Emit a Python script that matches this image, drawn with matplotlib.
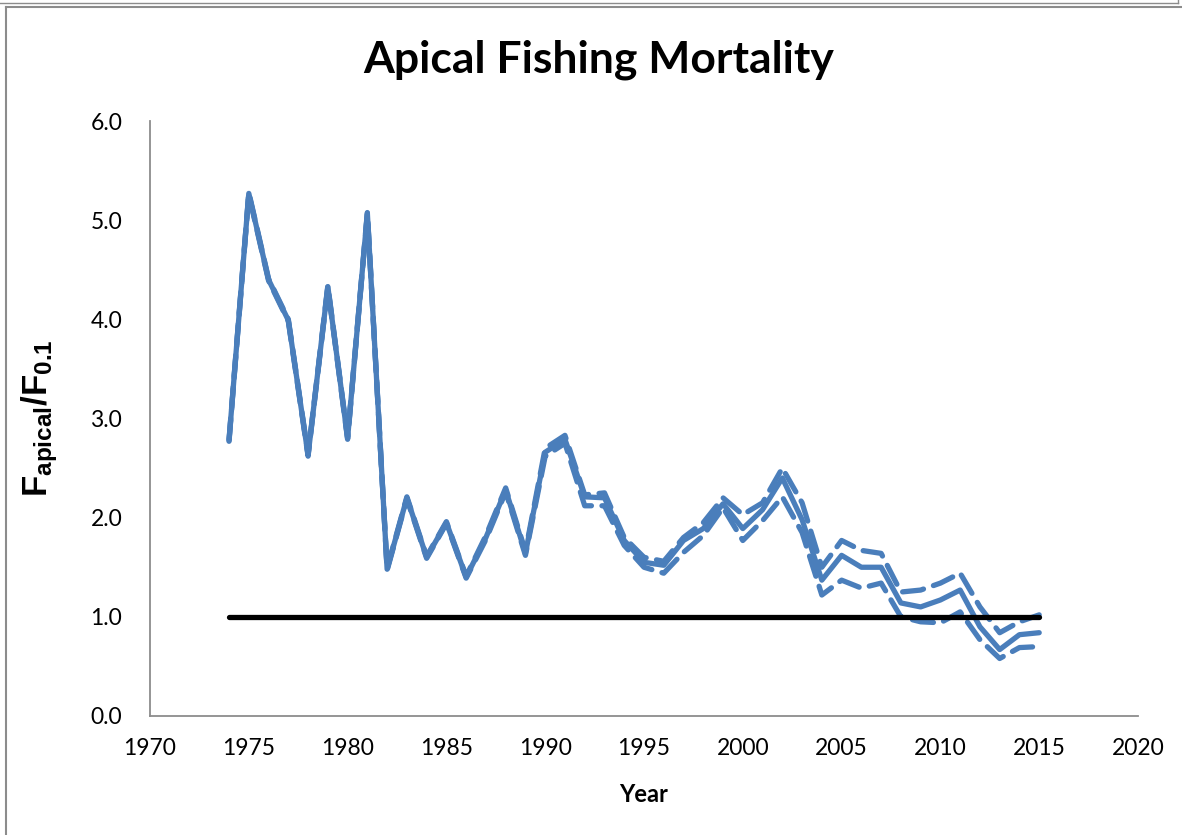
import numpy as np
import matplotlib.pyplot as plt
from matplotlib.lines import Line2D

plt.rcParams['font.family'] = ['Lato', 'DejaVu Sans']
plt.rcParams['mathtext.fontset'] = 'custom'
plt.rcParams['mathtext.rm'] = 'Liberation Sans'
plt.rcParams['mathtext.bf'] = 'Liberation Sans:bold'
plt.rcParams['mathtext.default'] = 'bf'

# dati
years = np.arange(1974, 2016)
f_ratio = [2.78, 5.27, 4.40, 3.99, 2.63, 4.33, 2.80, 5.07, 1.48, 2.20,
           1.60, 1.95, 1.40, 1.80, 2.28, 1.64, 2.66, 2.79, 2.21, 2.20,
           1.77, 1.55, 1.52, 1.77, 1.89, 2.14, 1.89, 2.08, 2.40, 1.98,
           1.37, 1.62, 1.50, 1.50, 1.14, 1.10, 1.17, 1.27, 0.90, 0.67,
           0.82, 0.84]
f_upper = [2.79, 5.28, 4.41, 4.00, 2.64, 4.34, 2.81, 5.08, 1.49, 2.21,
           1.61, 1.96, 1.41, 1.82, 2.30, 1.66, 2.70, 2.83, 2.23, 2.25,
           1.80, 1.60, 1.56, 1.80, 1.95, 2.20, 2.03, 2.15, 2.50, 2.15,
           1.50, 1.77, 1.67, 1.64, 1.25, 1.27, 1.34, 1.44, 1.10, 0.84,
           0.95, 1.02]
f_lower = [2.77, 5.26, 4.39, 3.98, 2.62, 4.32, 2.79, 5.06, 1.47, 2.19,
           1.59, 1.94, 1.39, 1.78, 2.26, 1.62, 2.62, 2.75, 2.12, 2.12,
           1.72, 1.50, 1.44, 1.65, 1.82, 2.10, 1.77, 1.97, 2.21, 1.85,
           1.22, 1.37, 1.29, 1.34, 1.00, 0.95, 0.94, 1.05, 0.77, 0.58,
           0.69, 0.70]
ref_years = [1974, 2015]
ref_level = [1.0, 1.0]

blue = "#4A7EBB"

fig = plt.figure(figsize=(11.82, 8.35), dpi=100)
ax = fig.add_axes([150 / 1182, 1 - 716 / 835, 988 / 1182, 595 / 835])

ax.plot(years, f_upper, color=blue, lw=3.8, ls=(0, (4, 2)), dash_capstyle="round")
ax.plot(years, f_lower, color=blue, lw=3.8, ls=(0, (4, 2)), dash_capstyle="round")
ax.plot(years, f_ratio, color=blue, lw=3.8, solid_capstyle="round", solid_joinstyle="round")
ax.plot(ref_years, ref_level, color="black", lw=3.8, solid_capstyle="round")

ax.set_xlim(1970, 2020)
ax.set_ylim(0, 6)
ax.set_xticks(np.arange(1970, 2021, 5))
ax.set_yticks(np.arange(0, 6.1, 1.0))
ax.set_yticklabels([f"{v:.1f}" for v in np.arange(0, 6.1, 1.0)])
ax.tick_params(length=0, labelsize=16.5, colors="black")
ax.tick_params(axis="x", pad=16)
ax.tick_params(axis="y", pad=20)
for side in ["top", "right"]:
    ax.spines[side].set_visible(False)
for side in ["left", "bottom"]:
    ax.spines[side].set_color("#8c8c8c")
    ax.spines[side].set_linewidth(1.3)

ax.set_xlabel("Year", fontsize=17, fontweight="bold", labelpad=17)
ax.set_ylabel(r"$F_{apical}/F_{0.1}$", fontsize=25, labelpad=22)
fig.suptitle("Apical Fishing Mortality", fontsize=32, fontweight="bold",
             x=599 / 1182, y=1 - 60 / 835, va="center")

# cornice esterna stile Excel
fig.add_artist(Line2D([6 / 1182, 6 / 1182], [0, 1 - 7 / 835], transform=fig.transFigure,
                      color="#8c8c8c", lw=1.5))
fig.add_artist(Line2D([6 / 1182, 1], [1 - 7 / 835, 1 - 7 / 835], transform=fig.transFigure,
                      color="#8c8c8c", lw=1.5))
fig.add_artist(Line2D([0, 1178 / 1182], [1 - 3 / 835, 1 - 3 / 835], transform=fig.transFigure,
                      color="#8c8c8c", lw=1.0))
fig.add_artist(Line2D([1178 / 1182, 1178 / 1182], [1 - 3 / 835, 1], transform=fig.transFigure,
                      color="#8c8c8c", lw=1.0))

fig.savefig("out.png", dpi=100)
